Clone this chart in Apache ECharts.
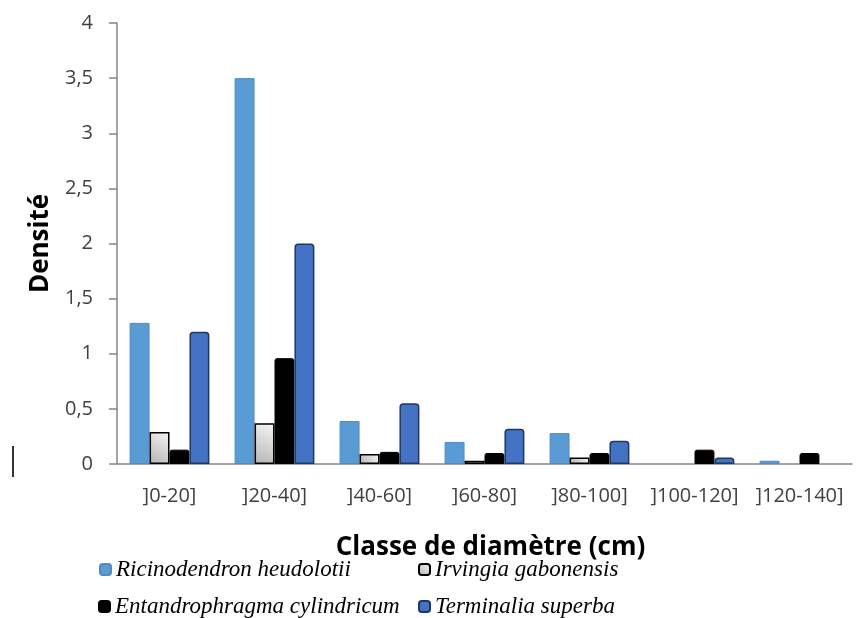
<!DOCTYPE html>
<html lang="fr">

<head>
    <meta charset="UTF-8">
    <title>Densité par classe de diamètre</title>
    <script src="https://cdn.jsdelivr.net/npm/echarts@6/dist/echarts.min.js"></script>
    <style>
        html, body { margin: 0; padding: 0; background: #fff; }
        #chart { width: 859px; height: 618px; }
    </style>
</head>

<body>
    <div id="chart"></div>

    <script>
        // classes de diamètre
        var categories = [']0-20]', ']20-40]', ']40-60]', ']60-80]', ']80-100]', ']100-120]', ']120-140]'];
        var yTicks = [0, 0.5, 1, 1.5, 2, 2.5, 3, 3.5, 4];

        // densités
        var ricinodendron = [1.28, 3.5, 0.39, 0.2, 0.28, 0, 0.03];
        var irvingia = [0.29, 0.37, 0.09, 0.03, 0.06, 0, 0];
        var entandrophragma = [0.13, 0.96, 0.11, 0.1, 0.1, 0.13, 0.1];
        var terminalia = [1.2, 2.0, 0.55, 0.32, 0.21, 0.06, 0];

        var names = ['Ricinodendron heudolotii', 'Irvingia gabonensis',
            'Entandrophragma cylindricum', 'Terminalia superba'];

        // pas de barre dessinée quand la densité est nulle
        function bars(arr) {
            return arr.map(function (v) { return v === 0 ? '-' : v; });
        }

        var legendText = {
            fontFamily: 'Liberation Serif',
            fontStyle: 'italic',
            fontSize: 23,
            color: '#000'
        };

        function legendAt(name, left, top) {
            return {
                data: [name],
                left: left,
                top: top,
                padding: 0,
                itemWidth: 11,
                itemHeight: 11,
                itemGap: 5,
                selectedMode: false,
                textStyle: legendText
            };
        }

        var chart = echarts.init(document.getElementById('chart'));
        chart.setOption({
            animation: false,
            grid: {
                left: 117,
                right: 7,
                top: 23,
                bottom: 154
            },
            legend: [
                legendAt(names[0], 99, 558),
                legendAt(names[1], 418, 558),
                legendAt(names[2], 98, 595),
                legendAt(names[3], 418, 595)
            ],
            xAxis: {
                type: 'category',
                data: categories,
                name: 'Classe de diamètre (cm)',
                nameLocation: 'middle',
                nameGap: 71,
                nameTextStyle: {
                    fontFamily: 'Open Sans',
                    fontWeight: 'bold',
                    fontSize: 26,
                    color: '#000',
                    padding: [0, 0, 0, 12]
                },
                axisLine: { lineStyle: { color: '#868686', width: 1.5 } },
                axisTick: { show: false },
                axisLabel: {
                    interval: 0,
                    margin: 22,
                    fontFamily: 'Open Sans',
                    fontSize: 20,
                    color: '#404040'
                }
            },
            yAxis: {
                type: 'value',
                min: 0,
                max: yTicks[yTicks.length - 1],
                interval: 0.5,
                name: 'Densité',
                nameLocation: 'middle',
                nameGap: 53,
                nameTextStyle: {
                    fontFamily: 'Open Sans',
                    fontWeight: 'bold',
                    fontSize: 26,
                    color: '#000'
                },
                axisLine: { show: true, lineStyle: { color: '#868686', width: 1.5 } },
                axisTick: { show: true, length: 8, lineStyle: { color: '#868686', width: 1.5 } },
                splitLine: { show: false },
                axisLabel: {
                    margin: 24,
                    fontFamily: 'Open Sans',
                    fontSize: 20,
                    color: '#404040',
                    formatter: function (v) {
                        return String(v).replace('.', ',');
                    }
                }
            },
            series: [{
                name: names[0],
                type: 'bar',
                data: bars(ricinodendron),
                barGap: '0%',
                barCategoryGap: '24%',
                itemStyle: {
                    color: '#5B9BD5',
                    borderColor: '#4f8cc4',
                    borderWidth: 1
                }
            }, {
                name: names[1],
                type: 'bar',
                data: bars(irvingia),
                itemStyle: {
                    color: new echarts.graphic.LinearGradient(0, 1, 1, 0, [
                        { offset: 0, color: '#b4b4b4' },
                        { offset: 1, color: '#f6f6f6' }
                    ]),
                    borderColor: '#000',
                    borderWidth: 1.5
                }
            }, {
                name: names[2],
                type: 'bar',
                data: bars(entandrophragma),
                itemStyle: {
                    color: '#000',
                    borderColor: '#000',
                    borderWidth: 1,
                    borderRadius: [2, 2, 0, 0]
                }
            }, {
                name: names[3],
                type: 'bar',
                data: bars(terminalia),
                itemStyle: {
                    color: '#4472C4',
                    borderColor: '#1F3864',
                    borderWidth: 1.5,
                    borderRadius: [3, 3, 0, 0]
                }
            }],
            graphic: [{
                // petit trait isolé à gauche
                type: 'line',
                shape: { x1: 13, y1: 446, x2: 13, y2: 477 },
                style: { stroke: '#333', lineWidth: 2 }
            }]
        });
    </script>
</body>

</html>
